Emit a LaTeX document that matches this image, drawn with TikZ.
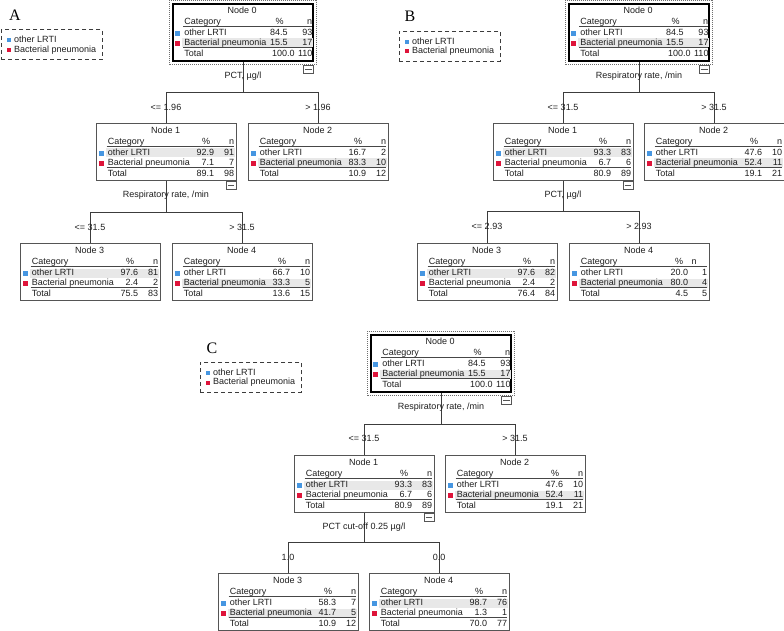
\documentclass[tikz,border=0pt]{standalone}
\usepackage{fontspec}
\setmainfont{Liberation Sans}
\newfontfamily\panelfont{Liberation Serif}
\definecolor{framegray}{RGB}{85,85,85}
\definecolor{conncol}{RGB}{60,60,60}
\definecolor{rulecol}{RGB}{70,70,70}
\definecolor{shadecol}{RGB}{232,232,232}
\definecolor{bluec}{RGB}{70,150,225}
\definecolor{redc}{RGB}{222,20,58}
\definecolor{dotgray}{RGB}{110,110,110}
\definecolor{txtcol}{RGB}{30,30,30}

\newcommand{\stdoffsets}{\def\hpR{26}\def\hnR{2}\def\pR{22}\def\tR{22}\def\nR{2}}
\newcommand{\rootoffsets}{\def\hpR{30}\def\hnR{1.5}\def\pR{26}\def\tR{19}\def\nR{1.2}}

% box: name, x, ytop, title, shaded row, frame style
\newcommand{\dtbox}[6]{%
  \node[#6, anchor=north] (#1) at (#2,#3) {};
  \fill[shadecol] ([shift={(10,{15.5+10*#5})}]#1.north west) rectangle ([shift={(-1.2,{24.5+10*#5})}]#1.north east);
  \node[dttext] (#1-t) at ([shift={(70,8.5)}]#1.north west) {#4};
  \node[dttext,anchor=west] (#1-hc) at ([shift={(12,19.5)}]#1.north west) {Category};
  \node[dttext,anchor=east] (#1-hp) at ([shift={(-\hpR,19.5)}]#1.north east) {\%};
  \node[dttext,anchor=east] (#1-hn) at ([shift={(-\hnR,19.5)}]#1.north east) {n};
  \draw[ruleline] ([shift={(11,23.8)}]#1.north west) -- ([shift={(-2,23.8)}]#1.north east);
  \fill[bluec] ([shift={(3,28)}]#1.north west) rectangle ++(5,5);
  \fill[redc] ([shift={(3,38)}]#1.north west) rectangle ++(5,5);
  \node[dttext,anchor=west] (#1-c1) at ([shift={(12,30.5)}]#1.north west) {other LRTI};
  \node[dttext,anchor=west] (#1-c2) at ([shift={(12,40.5)}]#1.north west) {Bacterial pneumonia};
  \draw[ruleline] ([shift={(11,44.8)}]#1.north west) -- ([shift={(-2,44.8)}]#1.north east);
  \node[dttext,anchor=west] (#1-c3) at ([shift={(12,51.3)}]#1.north west) {Total};
}
% values: name, p1, n1, p2, n2, pt, nt
\newcommand{\dtvals}[7]{%
  \node[dttext,anchor=east] (#1-p1) at ([shift={(-\pR,30.5)}]#1.north east) {#2};
  \node[dttext,anchor=east] (#1-n1) at ([shift={(-\nR,30.5)}]#1.north east) {#3};
  \node[dttext,anchor=east] (#1-p2) at ([shift={(-\pR,40.5)}]#1.north east) {#4};
  \node[dttext,anchor=east] (#1-n2) at ([shift={(-\nR,40.5)}]#1.north east) {#5};
  \node[dttext,anchor=east] (#1-p3) at ([shift={(-\tR,51.3)}]#1.north east) {#6};
  \node[dttext,anchor=east] (#1-n3) at ([shift={(-\nR,51.3)}]#1.north east) {#7};
}
% root decoration: dotted frame
\newcommand{\dtdots}[1]{%
  \draw[rootdot] ([shift={(-3,-3)}]#1.north west) rectangle ([shift={(3,3)}]#1.south east);
}
% minus box: name, y offset
\newcommand{\dtminus}[2]{%
  \node[mbox, anchor=north east] (#1-m) at ([shift={(0,#2)}]#1.south east) {};
  \draw[draw=framegray, line width=0.8pt] ([xshift=2pt]#1-m.west) -- ([xshift=-2pt]#1-m.east);
}
% legend: name, x, y
\newcommand{\dtlegend}[3]{%
  \node[legbox, anchor=north west] (#1) at (#2,#3) {};
  \fill[bluec] ([shift={(6,9)}]#1.north west) rectangle ++(4,4);
  \fill[redc] ([shift={(6,18.5)}]#1.north west) rectangle ++(4,4);
  \node[dttext,anchor=west] (#1-1) at ([shift={(13,11)}]#1.north west) {other LRTI};
  \node[dttext,anchor=west] (#1-2) at ([shift={(13,20.5)}]#1.north west) {Bacterial pneumonia};
}

\begin{document}
\begin{tikzpicture}[x=1pt,y=-1pt,
  dttext/.style={font=\fontsize{9}{10}\selectfont, inner sep=0pt, text height=6.5pt, text depth=1.9pt, text=txtcol},
  dtframe/.style={draw=framegray, line width=0.8pt, minimum width=140pt, minimum height=57pt, inner sep=0pt},
  rootframe/.style={draw=black, line width=1.8pt, minimum width=140pt, minimum height=57pt, inner sep=0pt},
  rootdot/.style={draw=dotgray, line width=0.9pt, dash pattern=on 1pt off 1pt},
  ruleline/.style={draw=rulecol, line width=1.1pt},
  conn/.style={draw=conncol, line width=0.9pt},
  mbox/.style={draw=framegray, line width=0.8pt, minimum width=10pt, minimum height=8pt, inner sep=0pt},
  legbox/.style={draw=conncol, line width=0.9pt, dash pattern=on 4pt off 3pt, minimum width=101pt, minimum height=30pt, inner sep=0pt},
  paneltext/.style={font=\panelfont\fontsize{16}{16}\selectfont, inner sep=0pt, text=black}
]
\useasboundingbox (0,0) rectangle (784,631);

%================ Panel A ================
\node[paneltext] (labA) at (15,15) {A};
\dtlegend{legA}{1}{29.5}

\rootoffsets
\dtbox{a0}{243}{3}{Node 0}{2}{rootframe}
\dtvals{a0}{84.5}{93}{15.5}{17}{100.0}{110}
\dtdots{a0}
\dtminus{a0}{3}

\stdoffsets
\dtbox{a1}{166}{123}{Node 1}{1}{dtframe}
\dtvals{a1}{92.9}{91}{7.1}{7}{89.1}{98}
\dtminus{a1}{0}
\dtbox{a2}{318}{123}{Node 2}{2}{dtframe}
\dtvals{a2}{16.7}{2}{83.3}{10}{10.9}{12}
\dtbox{a3}{90}{243}{Node 3}{1}{dtframe}
\dtvals{a3}{97.6}{81}{2.4}{2}{75.5}{83}
\dtbox{a4}{242}{243}{Node 4}{2}{dtframe}
\dtvals{a4}{66.7}{10}{33.3}{5}{13.6}{15}

\path (a0.south) ++(0,31) coordinate (a0h);
\draw[conn] (a0.south) -- (a0h);
\draw[conn] (a1.north) |- (a0h) -| (a2.north);
\path (a1.south) ++(0,32) coordinate (a1h);
\draw[conn] (a1.south) -- (a1h);
\draw[conn] (a3.north) |- (a1h) -| (a4.north);

\node[dttext] (a0-s) at (243,76.5) {PCT, µg/l};
\node[dttext] (a1-l) at (166,108.5) {<= 1.96};
\node[dttext] (a2-l) at (318,108.5) {> 1.96};
\node[dttext] (a1-s) at (166,195.5) {Respiratory rate, /min};
\node[dttext] (a3-l) at (90,228.5) {<= 31.5};
\node[dttext] (a4-l) at (242,228.5) {> 31.5};

%================ Panel B ================
\node[paneltext] (labB) at (410,16) {B};
\dtlegend{legB}{399}{31}

\rootoffsets
\dtbox{b0}{639}{3}{Node 0}{2}{rootframe}
\dtvals{b0}{84.5}{93}{15.5}{17}{100.0}{110}
\dtdots{b0}
\dtminus{b0}{3}

\stdoffsets
\dtbox{b1}{563}{123}{Node 1}{1}{dtframe}
\dtvals{b1}{93.3}{83}{6.7}{6}{80.9}{89}
\dtminus{b1}{0}
\dtbox{b2}{714}{123}{Node 2}{2}{dtframe}
\dtvals{b2}{47.6}{10}{52.4}{11}{19.1}{21}
\dtbox{b3}{487}{243}{Node 3}{1}{dtframe}
\dtvals{b3}{97.6}{82}{2.4}{2}{76.4}{84}
\def\hpR{26}\def\hnR{12.5}\def\pR{21}\def\tR{21}\def\nR{2}
\dtbox{b4}{639}{243}{Node 4}{2}{dtframe}
\dtvals{b4}{20.0}{1}{80.0}{4}{4.5}{5}
\stdoffsets

\path (b0.south) ++(0,31) coordinate (b0h);
\draw[conn] (b0.south) -- (b0h);
\draw[conn] (b1.north) |- (b0h) -| (b2.north);
\path (b1.south) ++(0,31) coordinate (b1h);
\draw[conn] (b1.south) -- (b1h);
\draw[conn] (b3.north) |- (b1h) -| (b4.north);

\node[dttext] (b0-s) at (639,76.5) {Respiratory rate, /min};
\node[dttext] (b1-l) at (563,108.5) {<= 31.5};
\node[dttext] (b2-l) at (714,108.5) {> 31.5};
\node[dttext] (b1-s) at (563,195.5) {PCT, µg/l};
\node[dttext] (b3-l) at (487,227.5) {<= 2.93};
\node[dttext] (b4-l) at (639,227.5) {> 2.93};

%================ Panel C ================
\node[paneltext] (labC) at (212,348) {C};
\dtlegend{legC}{200}{362}

\rootoffsets
\dtbox{c0}{441}{334}{Node 0}{2}{rootframe}
\dtvals{c0}{84.5}{93}{15.5}{17}{100.0}{110}
\dtdots{c0}
\dtminus{c0}{3}

\stdoffsets
\dtbox{c1}{364}{455}{Node 1}{1}{dtframe}
\dtvals{c1}{93.3}{83}{6.7}{6}{80.9}{89}
\dtminus{c1}{0}
\dtbox{c2}{515}{455}{Node 2}{2}{dtframe}
\dtvals{c2}{47.6}{10}{52.4}{11}{19.1}{21}
\dtbox{c3}{288}{573}{Node 3}{2}{dtframe}
\dtvals{c3}{58.3}{7}{41.7}{5}{10.9}{12}
\dtbox{c4}{439}{573}{Node 4}{1}{dtframe}
\dtvals{c4}{98.7}{76}{1.3}{1}{70.0}{77}

\path (c0.south) ++(0,32) coordinate (c0h);
\draw[conn] (c0.south) -- (c0h);
\draw[conn] (c1.north) |- (c0h) -| (c2.north);
\path (c1.south) ++(0,30) coordinate (c1h);
\draw[conn] (c1.south) -- (c1h);
\draw[conn] (c3.north) |- (c1h) -| (c4.north);

\node[dttext] (c0-s) at (441,407.5) {Respiratory rate, /min};
\node[dttext] (c1-l) at (364,439.5) {<= 31.5};
\node[dttext] (c2-l) at (515,439.5) {> 31.5};
\node[dttext] (c1-s) at (364,527.5) {PCT cut-off 0.25 µg/l};
\node[dttext] (c3-l) at (288,558.5) {1.0};
\node[dttext] (c4-l) at (439,558.5) {0.0};
\end{tikzpicture}
\end{document}
